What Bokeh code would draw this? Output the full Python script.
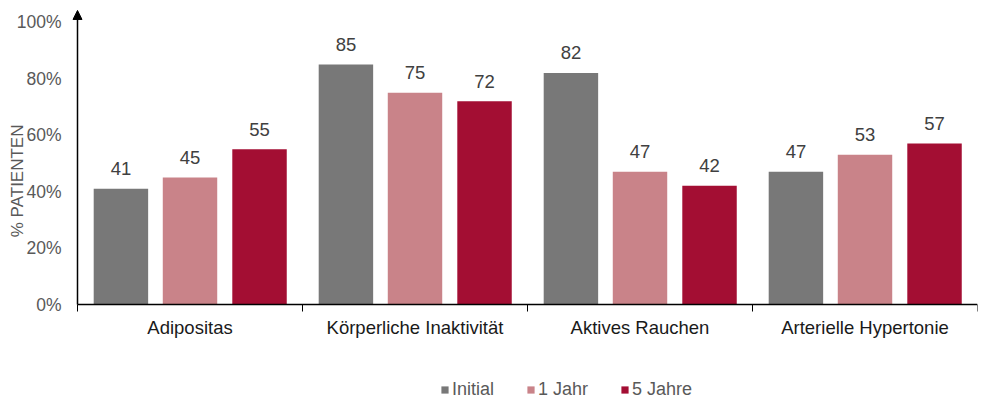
from bokeh.plotting import figure
from bokeh.models import (ColumnDataSource, Range1d, FixedTicker, Legend, LegendItem,
                          Arrow, NormalHead, LinearAxis)
from bokeh.transform import dodge
from bokeh.core.properties import value
from bokeh.embed import file_html
from bokeh.resources import INLINE

categories = ["Adipositas", "Körperliche Inaktivität", "Aktives Rauchen", "Arterielle Hypertonie"]
initial = [41, 85, 82, 47]
jahr1 = [45, 75, 47, 53]
jahre5 = [55, 72, 42, 57]
series_names = ["Initial", "1 Jahr", "5 Jahre"]
colors = ["#787878", "#c98389", "#a30e33"]
y_ticks = [0, 20, 40, 60, 80, 100]
y_title = "% PATIENTEN"

FONT = "Liberation Sans"
YMIN = -34.69
YMAX = 105.5
ARROW_END = 104.1

n = len(categories)
xs = [i + 0.5 for i in range(n)]
src = ColumnDataSource(dict(x=xs, cat=categories, s0=initial, s1=jahr1, s2=jahre5,
                            l0=[str(v) for v in initial], l1=[str(v) for v in jahr1],
                            l2=[str(v) for v in jahre5]))

p = figure(width=980, height=404, output_backend="svg", toolbar_location=None,
           x_range=Range1d(-0.04, n), y_range=Range1d(YMIN, YMAX),
           min_border_left=68, min_border_right=3, min_border_top=6, min_border_bottom=2)
p.outline_line_color = None
p.xgrid.visible = False
p.ygrid.visible = False

offsets = [-0.307, 0.0, 0.309]
renderers = []
for col, lab, off, c in zip(["s0", "s1", "s2"], ["l0", "l1", "l2"], offsets, colors):
    r = p.vbar(x=dodge("x", off, range=p.x_range), top=col, width=0.242, bottom=0,
               source=src, fill_color=c, line_color=None)
    renderers.append(r)
    p.text(x=dodge("x", off, range=p.x_range), y=col, text=lab, source=src,
           text_align="center", text_baseline="middle", y_offset=-20,
           text_font=value(FONT), text_font_size="18.5px", text_color="#404040")

# primary y axis (tick labels only)
ya = p.yaxis[0]
ya.ticker = FixedTicker(ticks=y_ticks)
ya.major_label_overrides = {t: f"{t}%" for t in y_ticks}
ya.axis_line_color = None
ya.major_tick_line_color = None
ya.minor_tick_line_color = None
ya.major_tick_out = 0
ya.minor_tick_out = 0
ya.major_label_standoff = 7
ya.major_label_text_font = FONT
ya.major_label_text_font_size = "17.5px"
ya.major_label_text_color = "#595959"

# secondary left axis carrying only the title (leading no-break spaces lift it
# from the frame centre to the centre of the 0-88 % span, as in the original)
ta = LinearAxis(ticker=FixedTicker(ticks=[]), axis_line_color=None,
                major_tick_out=0, minor_tick_out=0, major_label_standoff=0,
                axis_label="\u00a0" * 10 + y_title, axis_label_standoff=-13,
                axis_label_text_font=FONT, axis_label_text_font_size="17px",
                axis_label_text_font_style="normal", axis_label_text_color="#595959")
p.add_layout(ta, "left")

p.add_layout(Arrow(end=NormalHead(size=9, fill_color="black", line_color="black", line_width=1),
                   x_start=0, y_start=0, x_end=0, y_end=ARROW_END,
                   line_color="black", line_width=1.5))

# x axis, fixed at y = 0
xa = p.xaxis[0]
xa.fixed_location = 0
xa.bounds = (0, n)
xa.ticker = FixedTicker(ticks=xs, minor_ticks=list(range(n + 1)))
xa.major_label_overrides = {x: c for x, c in zip(xs, categories)}
xa.axis_line_color = "black"
xa.axis_line_width = 1.5
xa.major_tick_line_color = None
xa.minor_tick_line_color = "black"
xa.minor_tick_line_width = 1
xa.minor_tick_out = 7
xa.minor_tick_in = 0
xa.major_label_standoff = 5
xa.major_label_text_font = FONT
xa.major_label_text_font_size = "18.5px"
xa.major_label_text_color = "#1a1a1a"

legend = Legend(items=[LegendItem(label=s, renderers=[r]) for s, r in zip(series_names, renderers)],
                orientation="horizontal", location=(372, 2),
                glyph_width=9, glyph_height=9, label_standoff=3, spacing=32,
                padding=0, margin=0, border_line_color=None, background_fill_alpha=0,
                label_text_font=FONT, label_text_font_size="18px",
                label_text_color="#595959", label_height=18)
p.add_layout(legend, "center")

open("out.html", "w").write(file_html(p, INLINE))
